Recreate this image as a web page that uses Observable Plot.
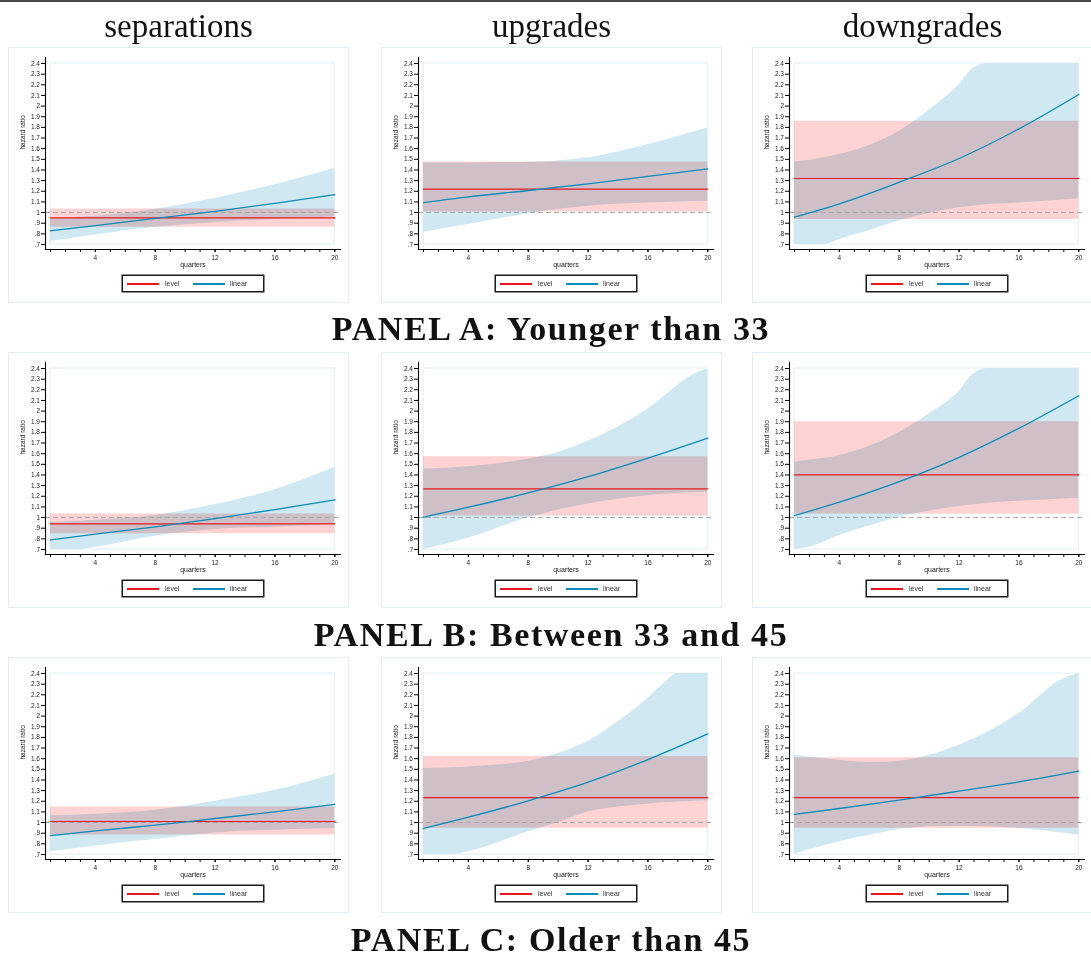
<!DOCTYPE html>
<html><head><meta charset="utf-8">
<script src="https://cdn.jsdelivr.net/npm/d3@7"></script>
<script src="https://cdn.jsdelivr.net/npm/@observablehq/plot@0.6"></script>
<style>
body{margin:0;background:#fff;}
#page{position:relative;width:1091px;height:958px;overflow:hidden;background:#fff;font-family:"Liberation Sans",Arial,sans-serif;}
.topline{position:absolute;left:0;top:0;width:1091px;height:2px;background:#4a4a4a;}
.coltitle{position:absolute;top:10px;width:341px;text-align:center;font-family:"Liberation Serif",serif;font-size:33px;line-height:33px;color:#111;white-space:nowrap;}
.paneltitle{position:absolute;left:0;width:1102px;text-align:center;font-family:"Liberation Serif",serif;font-weight:bold;font-size:34px;line-height:30px;letter-spacing:1.6px;color:#111;white-space:nowrap;}
.box{position:absolute;width:341px;height:256px;}
.box .border{position:absolute;left:0;top:0;right:0;bottom:0;border:1px solid #e2edf1;box-sizing:border-box;}
.box svg{position:absolute;left:0;top:0;overflow:visible;}
.legend{position:absolute;left:114px;top:228px;width:142px;height:17px;border:1px solid #1a1a1a;box-shadow:0 0 0 0.5px #1a1a1a;box-sizing:border-box;font-size:7px;color:#333;background:#fff;}
.legend .sw{position:absolute;top:7px;width:32px;height:1.5px;}
.legend .lb{position:absolute;top:3px;line-height:9px;}
</style></head>
<body><div id="page"></div>
<script>
// ---------- data ----------
const columnTitles = ["separations", "upgrades", "downgrades"];
const panelTitles = ["PANEL A: Younger than 33", "PANEL B: Between 33 and 45", "PANEL C: Older than 45"];
const seriesNames = ["level", "linear"];
const xDomain = [1, 20];
const yDomain = [0.7, 2.4];
const quarterTicks = [4, 8, 12, 16, 20];
const quarterMinorTicks = [1,2,3,4,5,6,7,8,9,10,11,12,13,14,15,16,17,18,19,20];
const hazardTicks = [0.7,0.8,0.9,1,1.1,1.2,1.3,1.4,1.5,1.6,1.7,1.8,1.9,2,2.1,2.2,2.3,2.4];
const hazardTickLabels = [".7",".8",".9","1","1.1","1.2","1.3","1.4","1.5","1.6","1.7","1.8","1.9","2","2.1","2.2","2.3","2.4"];
const referenceLine = [1];

// level model: constant hazard ratio and its confidence band (rows A,B,C x cols sep,upg,down)
const levelEst = [[0.95, 1.22, 1.32], [0.94, 1.27, 1.40], [1.01, 1.235, 1.235]];
const levelLo  = [[0.862, 1.005, 0.935], [0.847, 1.015, 1.034], [0.882, 0.947, 0.947]];
const levelHi  = [[1.034, 1.476, 1.858], [1.034, 1.572, 1.90], [1.145, 1.62, 1.608]];

// linear model: estimated hazard ratio at these quarters
const estQuarters = [1, 4, 8, 12, 16, 20];
const linA_sep_est = [0.828, 0.878, 0.945, 1.012, 1.087, 1.169];
const linA_upg_est = [1.094, 1.148, 1.207, 1.27, 1.339, 1.411];
const linA_down_est = [0.957, 1.082, 1.285, 1.508, 1.786, 2.109];
const linB_sep_est = [0.791, 0.844, 0.912, 0.99, 1.075, 1.166];
const linB_upg_est = [1.003, 1.097, 1.231, 1.384, 1.559, 1.747];
const linB_down_est = [1.019, 1.144, 1.337, 1.566, 1.838, 2.144];
const linC_sep_est = [0.878, 0.922, 0.975, 1.038, 1.101, 1.170];
const linC_upg_est = [0.944, 1.05, 1.204, 1.379, 1.592, 1.833];
const linC_down_est = [1.076, 1.132, 1.21, 1.295, 1.382, 1.483];

// linear model: confidence band (values as drawn, clipped to the axis range)
const bandA_sep_q  = [1, 4, 8, 12, 16, 20];
const bandA_sep_lo = [0.728, 0.79, 0.8625, 0.905, 0.935, 0.958];
const bandA_sep_hi = [0.942, 0.965, 1.03, 1.135, 1.262, 1.415];
const bandA_upg_q  = [1, 4, 8, 10, 12, 16, 20];
const bandA_upg_lo = [0.816, 0.888, 0.988, 1.03, 1.06, 1.09, 1.107];
const bandA_upg_hi = [1.465, 1.466, 1.472, 1.485, 1.514, 1.64, 1.795];
const bandA_down_q  = [1, 3, 4, 6, 8, 10, 12, 13, 14, 16, 20];
const bandA_down_lo = [0.7, 0.7, 0.747, 0.83, 0.92, 0.99, 1.044, 1.062, 1.075, 1.09, 1.129];
const bandA_down_hi = [1.473, 1.515, 1.545, 1.63, 1.764, 1.96, 2.20, 2.36, 2.4, 2.4, 2.4];
const bandB_sep_q  = [1, 3, 4, 8, 12, 16, 20];
const bandB_sep_lo = [0.70, 0.70, 0.72, 0.825, 0.888, 0.91, 0.934];
const bandB_sep_hi = [0.955, 0.965, 0.975, 1.02, 1.122, 1.262, 1.472];
const bandB_upg_q  = [1, 4, 8, 10, 12, 16, 19, 20];
const bandB_upg_lo = [0.70, 0.806, 0.997, 1.07, 1.128, 1.206, 1.232, 1.237];
const bandB_upg_hi = [1.456, 1.478, 1.55, 1.612, 1.716, 2.019, 2.34, 2.4];
const bandB_down_q  = [1, 2, 4, 6, 8, 10, 12, 13, 14, 16, 20];
const bandB_down_lo = [0.70, 0.72, 0.831, 0.92, 1.003, 1.06, 1.103, 1.12, 1.135, 1.153, 1.181];
const bandB_down_hi = [1.519, 1.54, 1.581, 1.67, 1.80, 1.972, 2.184, 2.353, 2.4, 2.4, 2.4];
const bandC_sep_q  = [1, 4, 8, 12, 16, 20];
const bandC_sep_lo = [0.725, 0.781, 0.841, 0.903, 0.928, 0.944];
const bandC_sep_hi = [1.063, 1.079, 1.116, 1.20, 1.304, 1.454];
const bandC_upg_q  = [1, 3, 4, 8, 10, 12, 14, 16, 17, 18, 20];
const bandC_upg_lo = [0.70, 0.70, 0.725, 0.913, 1.0, 1.10, 1.145, 1.173, 1.185, 1.193, 1.204];
const bandC_upg_hi = [1.508, 1.515, 1.523, 1.577, 1.649, 1.764, 1.946, 2.165, 2.297, 2.4, 2.4];
const bandC_down_q  = [1, 4, 6, 8, 10, 12, 16, 19, 20];
const bandC_down_lo = [0.703, 0.819, 0.88, 0.935, 0.96, 0.966, 0.944, 0.90, 0.882];
const bandC_down_hi = [1.633, 1.586, 1.564, 1.577, 1.633, 1.727, 2.024, 2.353, 2.40];

const linearEst = [[linA_sep_est, linA_upg_est, linA_down_est], [linB_sep_est, linB_upg_est, linB_down_est], [linC_sep_est, linC_upg_est, linC_down_est]];
const bandQ  = [[bandA_sep_q, bandA_upg_q, bandA_down_q], [bandB_sep_q, bandB_upg_q, bandB_down_q], [bandC_sep_q, bandC_upg_q, bandC_down_q]];
const bandLo = [[bandA_sep_lo, bandA_upg_lo, bandA_down_lo], [bandB_sep_lo, bandB_upg_lo, bandB_down_lo], [bandC_sep_lo, bandC_upg_lo, bandC_down_lo]];
const bandHi = [[bandA_sep_hi, bandA_upg_hi, bandA_down_hi], [bandB_sep_hi, bandB_upg_hi, bandB_down_hi], [bandC_sep_hi, bandC_upg_hi, bandC_down_hi]];

// ---------- layout & style ----------
const colLeft = [8, 381, 752];
const rowTop = [47, 352, 657];
const panelTitleTop = [314, 620, 925];
const RED = "#e8191e", BLUE = "#0b8bbd", PINK = "#ffd3d3", LIGHTBLUE = "#cfe8f1";

const page = document.getElementById("page");
const topLine = document.createElement("div"); topLine.className = "topline"; page.appendChild(topLine);
columnTitles.forEach((t, c) => {
  const d = document.createElement("div");
  d.className = "coltitle"; d.textContent = t; d.style.left = colLeft[c] + "px";
  page.appendChild(d);
});
panelTitles.forEach((t, r) => {
  const d = document.createElement("div");
  d.className = "paneltitle"; d.textContent = t; d.style.top = panelTitleTop[r] + "px";
  page.appendChild(d);
});

const tickLabel = v => hazardTickLabels[hazardTicks.findIndex(t => Math.abs(t - v) < 1e-9)];

function makePlot(r, c) {
  const lineRows = estQuarters.map((q, i) => ({q, v: linearEst[r][c][i]}));
  const bandRows = bandQ[r][c].map((q, i) => ({q, lo: bandLo[r][c][i], hi: bandHi[r][c][i]}));
  const levelRows = xDomain.map(q => ({q, est: levelEst[r][c], lo: levelLo[r][c], hi: levelHi[r][c]}));
  const region = [{x1: xDomain[0], x2: xDomain[1], y1: yDomain[0], y2: yDomain[1]}];
  return Plot.plot({
    width: 341, height: 230,
    marginLeft: 37, marginRight: 9, marginTop: 10, marginBottom: 28,
    style: {fontFamily: "'Liberation Sans', Arial, sans-serif", fontSize: "6.5px", background: "transparent", color: "#222", overflow: "visible"},
    x: {domain: xDomain, insetLeft: 5, insetRight: 5.7},
    y: {domain: yDomain, insetTop: 6, insetBottom: 5},
    marks: [
      Plot.rect(region, {x1: "x1", x2: "x2", y1: "y1", y2: "y2", fill: "none", stroke: "#e2edf1", strokeWidth: 1}),
      Plot.areaY(bandRows, {x: "q", y1: "lo", y2: "hi", fill: LIGHTBLUE, curve: "monotone-x"}),
      Plot.areaY(levelRows, {x: "q", y1: "lo", y2: "hi", fill: PINK, mixBlendMode: "multiply"}),
      Plot.ruleY(referenceLine, {stroke: "#a9a9a9", strokeWidth: 1.1, strokeDasharray: "5,3"}),
      Plot.lineY(levelRows, {x: "q", y: "est", stroke: RED, strokeWidth: 1.2}),
      Plot.lineY(lineRows, {x: "q", y: "v", stroke: BLUE, strokeWidth: 1.3, curve: "monotone-x"}),
      Plot.frame({anchor: "left", stroke: "#000", strokeWidth: 1.1}),
      Plot.frame({anchor: "bottom", stroke: "#000", strokeWidth: 1.1}),
      Plot.axisY(hazardTicks, {tickSize: 4, tickPadding: 1.5, tickFormat: tickLabel, label: null, stroke: "#000"}),
      Plot.axisX(quarterMinorTicks, {tickSize: 3, tickFormat: () => "", label: null, stroke: "#000"}),
      Plot.axisX(quarterTicks, {tickSize: 3, tickPadding: 2.5, label: null, stroke: "#000"}),
      Plot.text(["quarters"], {text: d => d, frameAnchor: "bottom", dy: 17, fontSize: 7, fill: "#222"}),
      Plot.text(["hazard ratio"], {text: d => d, frameAnchor: "left", rotate: -90, dx: -23, dy: -4, fontSize: 6.5, fill: "#222"})
    ]
  });
}

function makeLegend() {
  const lg = document.createElement("div");
  lg.className = "legend";
  const items = [{name: seriesNames[0], color: RED, sw: 4, lb: 42}, {name: seriesNames[1], color: BLUE, sw: 70, lb: 107}];
  items.forEach(it => {
    const s = document.createElement("div"); s.className = "sw";
    s.style.left = it.sw + "px"; s.style.background = it.color; lg.appendChild(s);
    const l = document.createElement("div"); l.className = "lb";
    l.style.left = it.lb + "px"; l.textContent = it.name; lg.appendChild(l);
  });
  return lg;
}

for (let r = 0; r < 3; r++) {
  for (let c = 0; c < 3; c++) {
    const box = document.createElement("div");
    box.className = "box";
    box.style.left = colLeft[c] + "px";
    box.style.top = rowTop[r] + "px";
    const b = document.createElement("div"); b.className = "border"; box.appendChild(b);
    box.appendChild(makePlot(r, c));
    box.appendChild(makeLegend());
    page.appendChild(box);
  }
}
</script>
</body></html>
